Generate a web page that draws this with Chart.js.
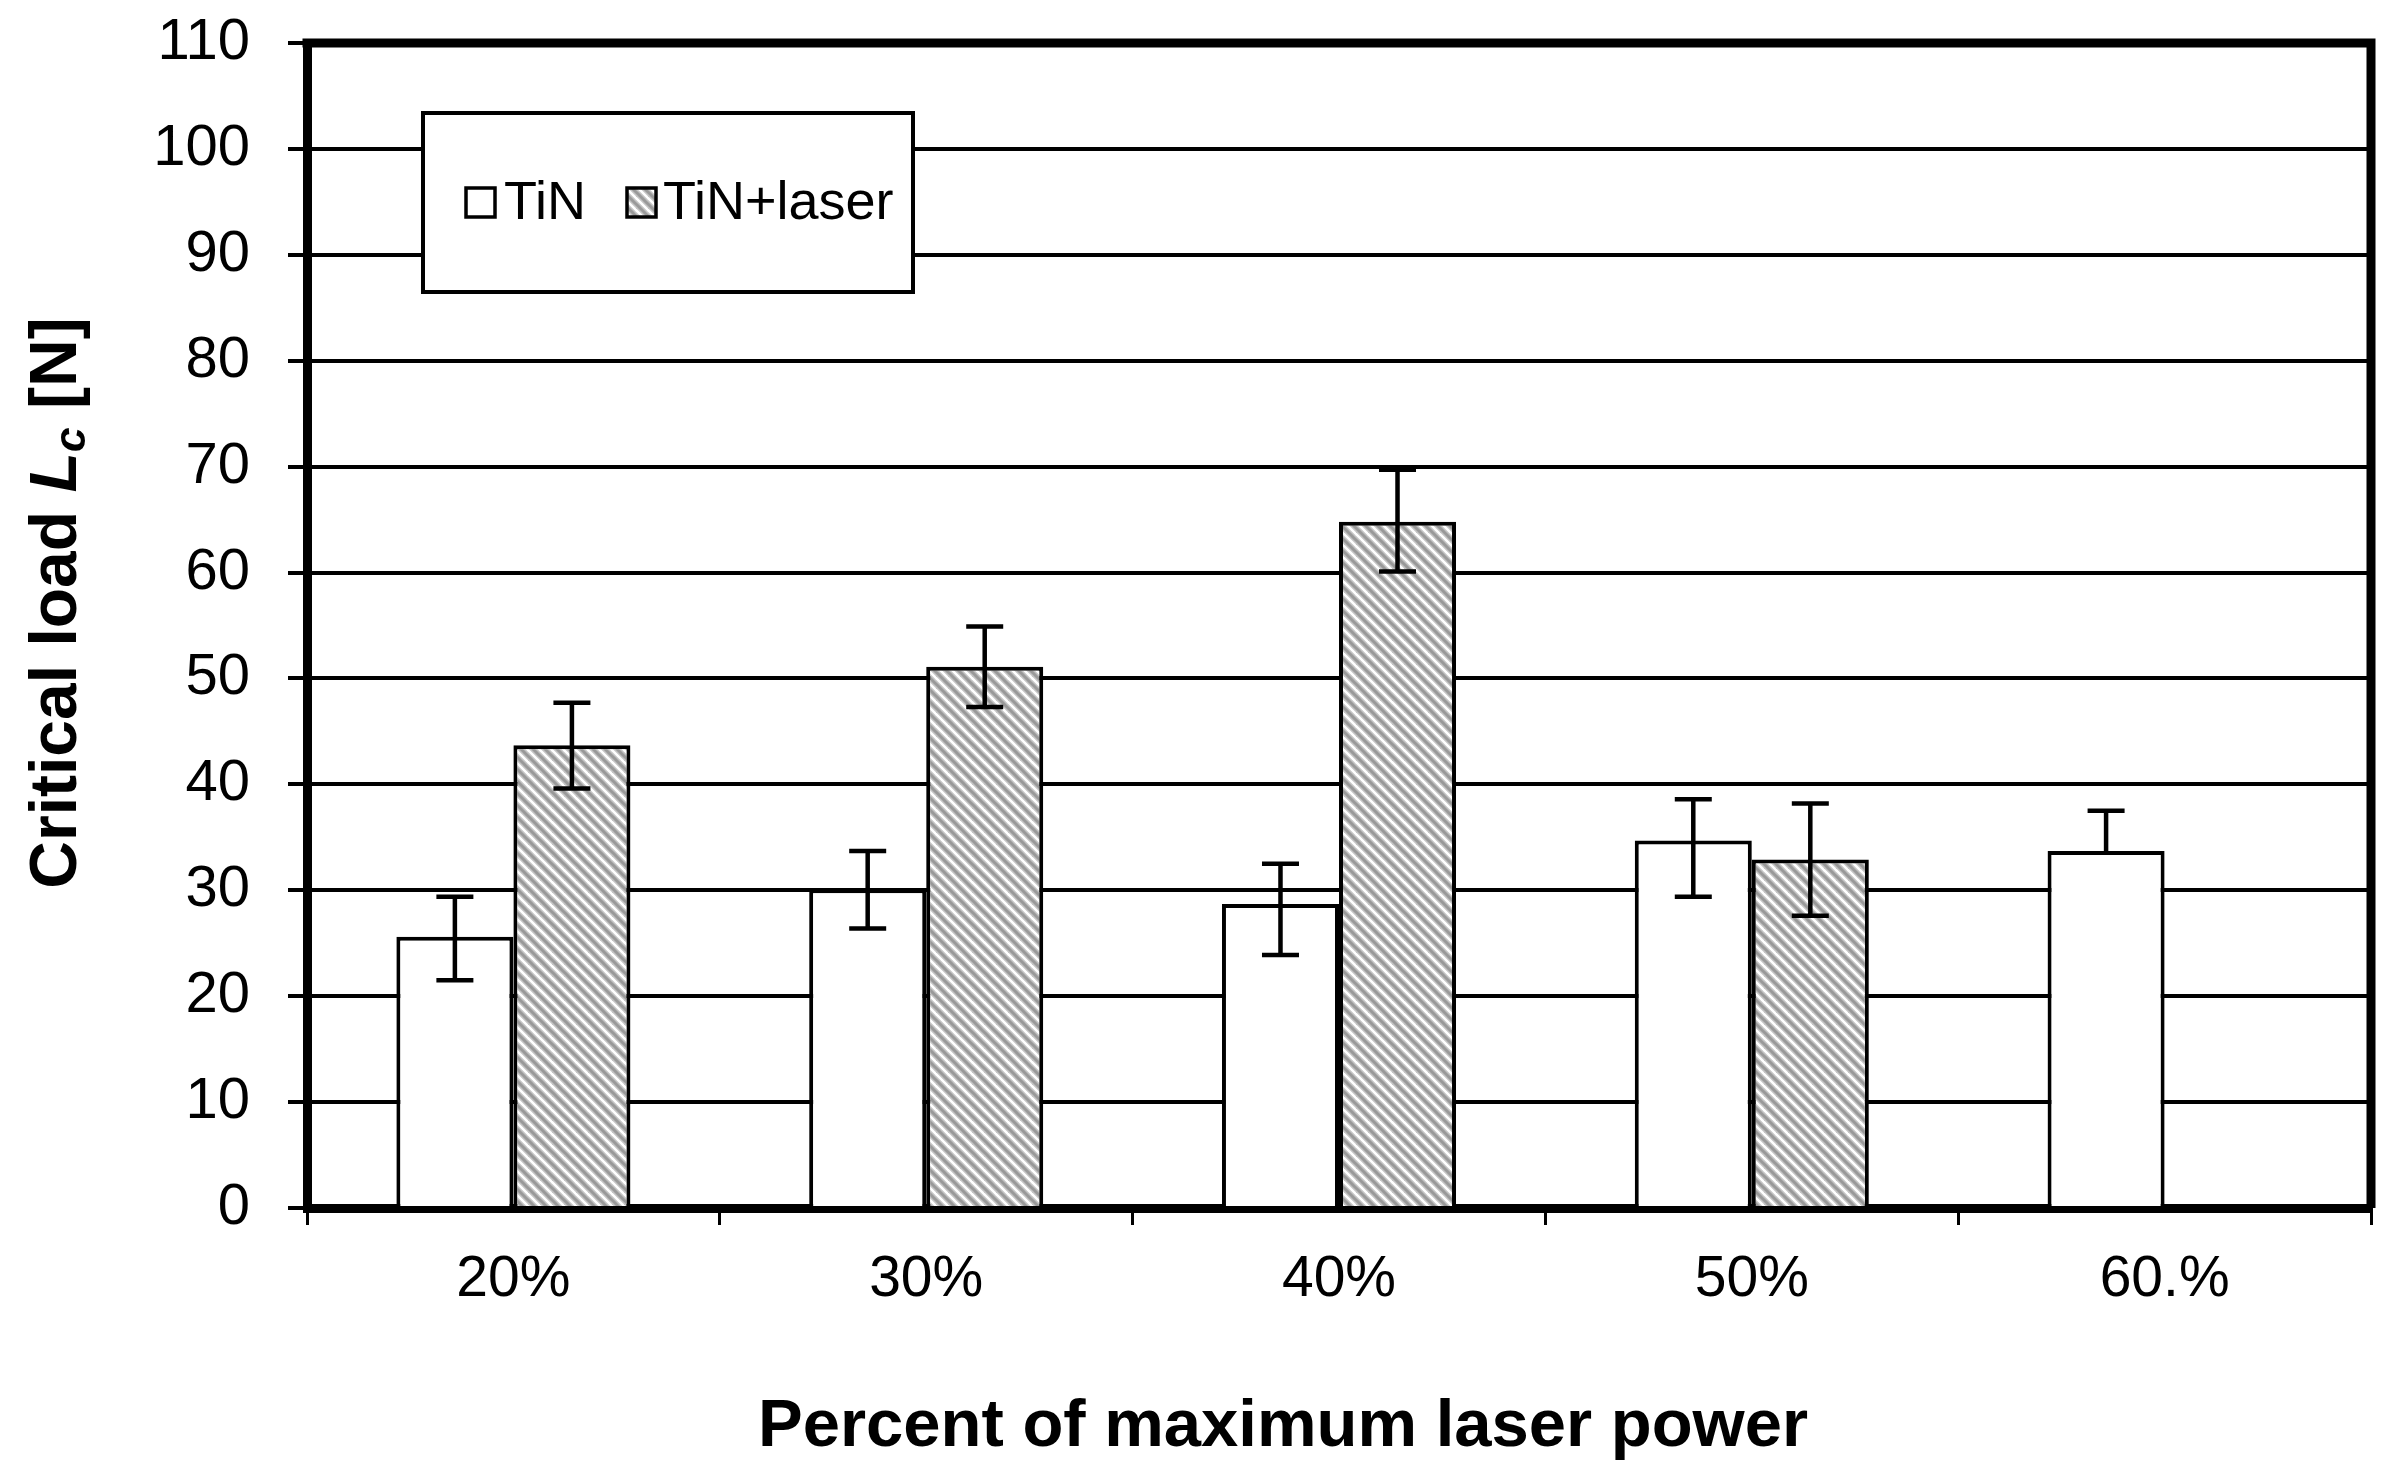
<!DOCTYPE html>
<html>
<head>
<meta charset="utf-8">
<script src="https://cdn.jsdelivr.net/npm/chart.js@4"></script>
<style>
  body { margin: 0; background: #fff; }
  canvas { display: block; }
</style>
</head>
<body>
<canvas id="chart" width="2394" height="1472"></canvas>
<script>
const categories = ['20%', '30%', '40%', '50%', '60.%'];
const seriesNames = ['TiN', 'TiN+laser'];
const tinValues = [25.6, 30.1, 28.7, 34.7, 33.7];
const laserValues = [43.7, 51.1, 64.8, 32.9, null];
const tinErrPlus = [3.8, 3.6, 3.8, 3.9, 3.8];
const tinErrMinus = [4.1, 3.7, 4.8, 5.3, 0];
const laserErrPlus = [4.0, 3.8, 4.9, 5.3, null];
const laserErrMinus = [4.1, 3.8, 4.7, 5.3, null];
const yTicks = [0, 10, 20, 30, 40, 50, 60, 70, 80, 90, 100, 110];

const FONT = "'Liberation Sans', Arial, sans-serif";

// diagonal grey hatch used for the laser bars
function makeHatch() {
  const s = 12;
  const c = document.createElement('canvas');
  c.width = s; c.height = s;
  const g = c.getContext('2d');
  g.fillStyle = '#ffffff';
  g.fillRect(0, 0, s, s);
  [[6, '#c4c4c4'], [3, '#999999']].forEach(([w, col]) => {
    g.strokeStyle = col;
    g.lineWidth = w;
    for (let k = -1; k <= 1; k++) {
      g.beginPath();
      g.moveTo(k * s - 3, -3);
      g.lineTo(k * s + s + 3, s + 3);
      g.stroke();
    }
  });
  return g.createPattern(c, 'repeat');
}
const hatch = makeHatch();

const errors = [
  { plus: tinErrPlus, minus: tinErrMinus },
  { plus: laserErrPlus, minus: laserErrMinus }
];

const errorBars = {
  id: 'errorBars',
  afterDatasetsDraw(chart) {
    const ctx = chart.ctx;
    const y = chart.scales.y;
    ctx.save();
    ctx.strokeStyle = '#000';
    ctx.lineWidth = 4.5;
    chart.data.datasets.forEach((ds, di) => {
      const meta = chart.getDatasetMeta(di);
      meta.data.forEach((bar, i) => {
        const v = ds.data[i];
        if (v == null) return;
        const p = errors[di].plus[i] || 0;
        const m = errors[di].minus[i] || 0;
        const x = bar.x;
        const yHi = y.getPixelForValue(v + p);
        const yLo = y.getPixelForValue(v - m);
        ctx.beginPath();
        ctx.moveTo(x, yHi); ctx.lineTo(x, yLo);
        ctx.moveTo(x - 18.5, yHi); ctx.lineTo(x + 18.5, yHi);
        if (m > 0) { ctx.moveTo(x - 18.5, yLo); ctx.lineTo(x + 18.5, yLo); }
        ctx.stroke();
      });
    });
    ctx.restore();
  }
};

const frameAndText = {
  id: 'frameAndText',
  afterDraw(chart) {
    const ctx = chart.ctx;
    const a = chart.chartArea;
    ctx.save();
    // top and right frame
    ctx.strokeStyle = '#000';
    ctx.lineWidth = 9;
    ctx.beginPath();
    ctx.moveTo(a.left - 4.5, a.top);
    ctx.lineTo(a.right, a.top);
    ctx.lineTo(a.right, a.bottom);
    ctx.stroke();

    // legend box
    ctx.fillStyle = '#fff';
    ctx.fillRect(423, 113, 490, 179);
    ctx.lineWidth = 4;
    ctx.strokeRect(423, 113, 490, 179);
    ctx.font = '54px ' + FONT;
    ctx.textBaseline = 'alphabetic';
    ctx.textAlign = 'left';
    const items = [
      { sx: 466, tx: 504, fill: '#ffffff' },
      { sx: 627, tx: 663, fill: hatch }
    ];
    items.forEach((it, k) => {
      ctx.fillStyle = it.fill;
      ctx.fillRect(it.sx, 188, 29, 29);
      ctx.lineWidth = 3.5;
      ctx.strokeRect(it.sx, 188, 29, 29);
      ctx.fillStyle = '#000';
      ctx.fillText(seriesNames[k], it.tx, 219);
    });

    // x title
    ctx.font = 'bold 67px ' + FONT;
    ctx.textAlign = 'center';
    ctx.fillText('Percent of maximum laser power', 1283, 1446);

    // y title with italic L and subscript c
    const parts = [
      { t: 'Critical load ', f: 'bold 66px ' + FONT, dy: 0 },
      { t: 'L', f: 'italic bold 66px ' + FONT, dy: 0 },
      { t: 'c', f: 'italic bold 45px ' + FONT, dy: 9 },
      { t: ' [N]', f: 'bold 66px ' + FONT, dy: 0 }
    ];
    let total = 0;
    parts.forEach(p => { ctx.font = p.f; p.w = ctx.measureText(p.t).width; total += p.w; });
    ctx.translate(76, 603);
    ctx.rotate(-Math.PI / 2);
    ctx.textAlign = 'left';
    let x = -total / 2;
    parts.forEach(p => {
      ctx.font = p.f;
      ctx.fillText(p.t, x, p.dy);
      x += p.w;
    });
    ctx.restore();
  }
};

new Chart(document.getElementById('chart'), {
  type: 'bar',
  data: {
    labels: categories,
    datasets: [
      {
        label: seriesNames[0],
        data: tinValues,
        backgroundColor: '#ffffff',
        borderColor: '#000',
        borderWidth: 4
      },
      {
        label: seriesNames[1],
        data: laserValues,
        backgroundColor: hatch,
        borderColor: '#000',
        borderWidth: 4
      }
    ]
  },
  options: {
    responsive: false,
    devicePixelRatio: 1,
    animation: false,
    datasets: {
      bar: { categoryPercentage: 0.567, barPercentage: 1.0 }
    },
    layout: { padding: { top: 43, right: 23, left: 0, bottom: 0 } },
    plugins: {
      legend: { display: false },
      tooltip: { enabled: false }
    },
    scales: {
      x: {
        offset: true,
        grid: {
          offset: true,
          drawOnChartArea: false,
          drawTicks: true,
          tickLength: 17,
          tickColor: '#000',
          lineWidth: 3
        },
        border: { display: true, color: '#000', width: 9 },
        ticks: {
          color: '#000',
          padding: 21,
          font: { family: FONT, size: 57 }
        },
        afterFit(scale) {
          scale.height = 264;
          scale.paddingLeft = 0;
          scale.paddingRight = 0;
        }
      },
      y: {
        min: 0,
        max: 110,
        afterBuildTicks(scale) { scale.ticks = yTicks.map(v => ({ value: v })); },
        grid: {
          color: '#000',
          lineWidth: 4,
          drawTicks: true,
          tickLength: 19,
          tickColor: '#000'
        },
        border: { display: true, color: '#000', width: 9 },
        ticks: {
          color: '#000',
          padding: 38,
          font: { family: FONT, size: 58 }
        },
        afterFit(scale) {
          scale.width = 307;
          scale.paddingTop = 0;
          scale.paddingBottom = 0;
        }
      }
    }
  },
  plugins: [errorBars, frameAndText]
});
</script>
</body>
</html>
